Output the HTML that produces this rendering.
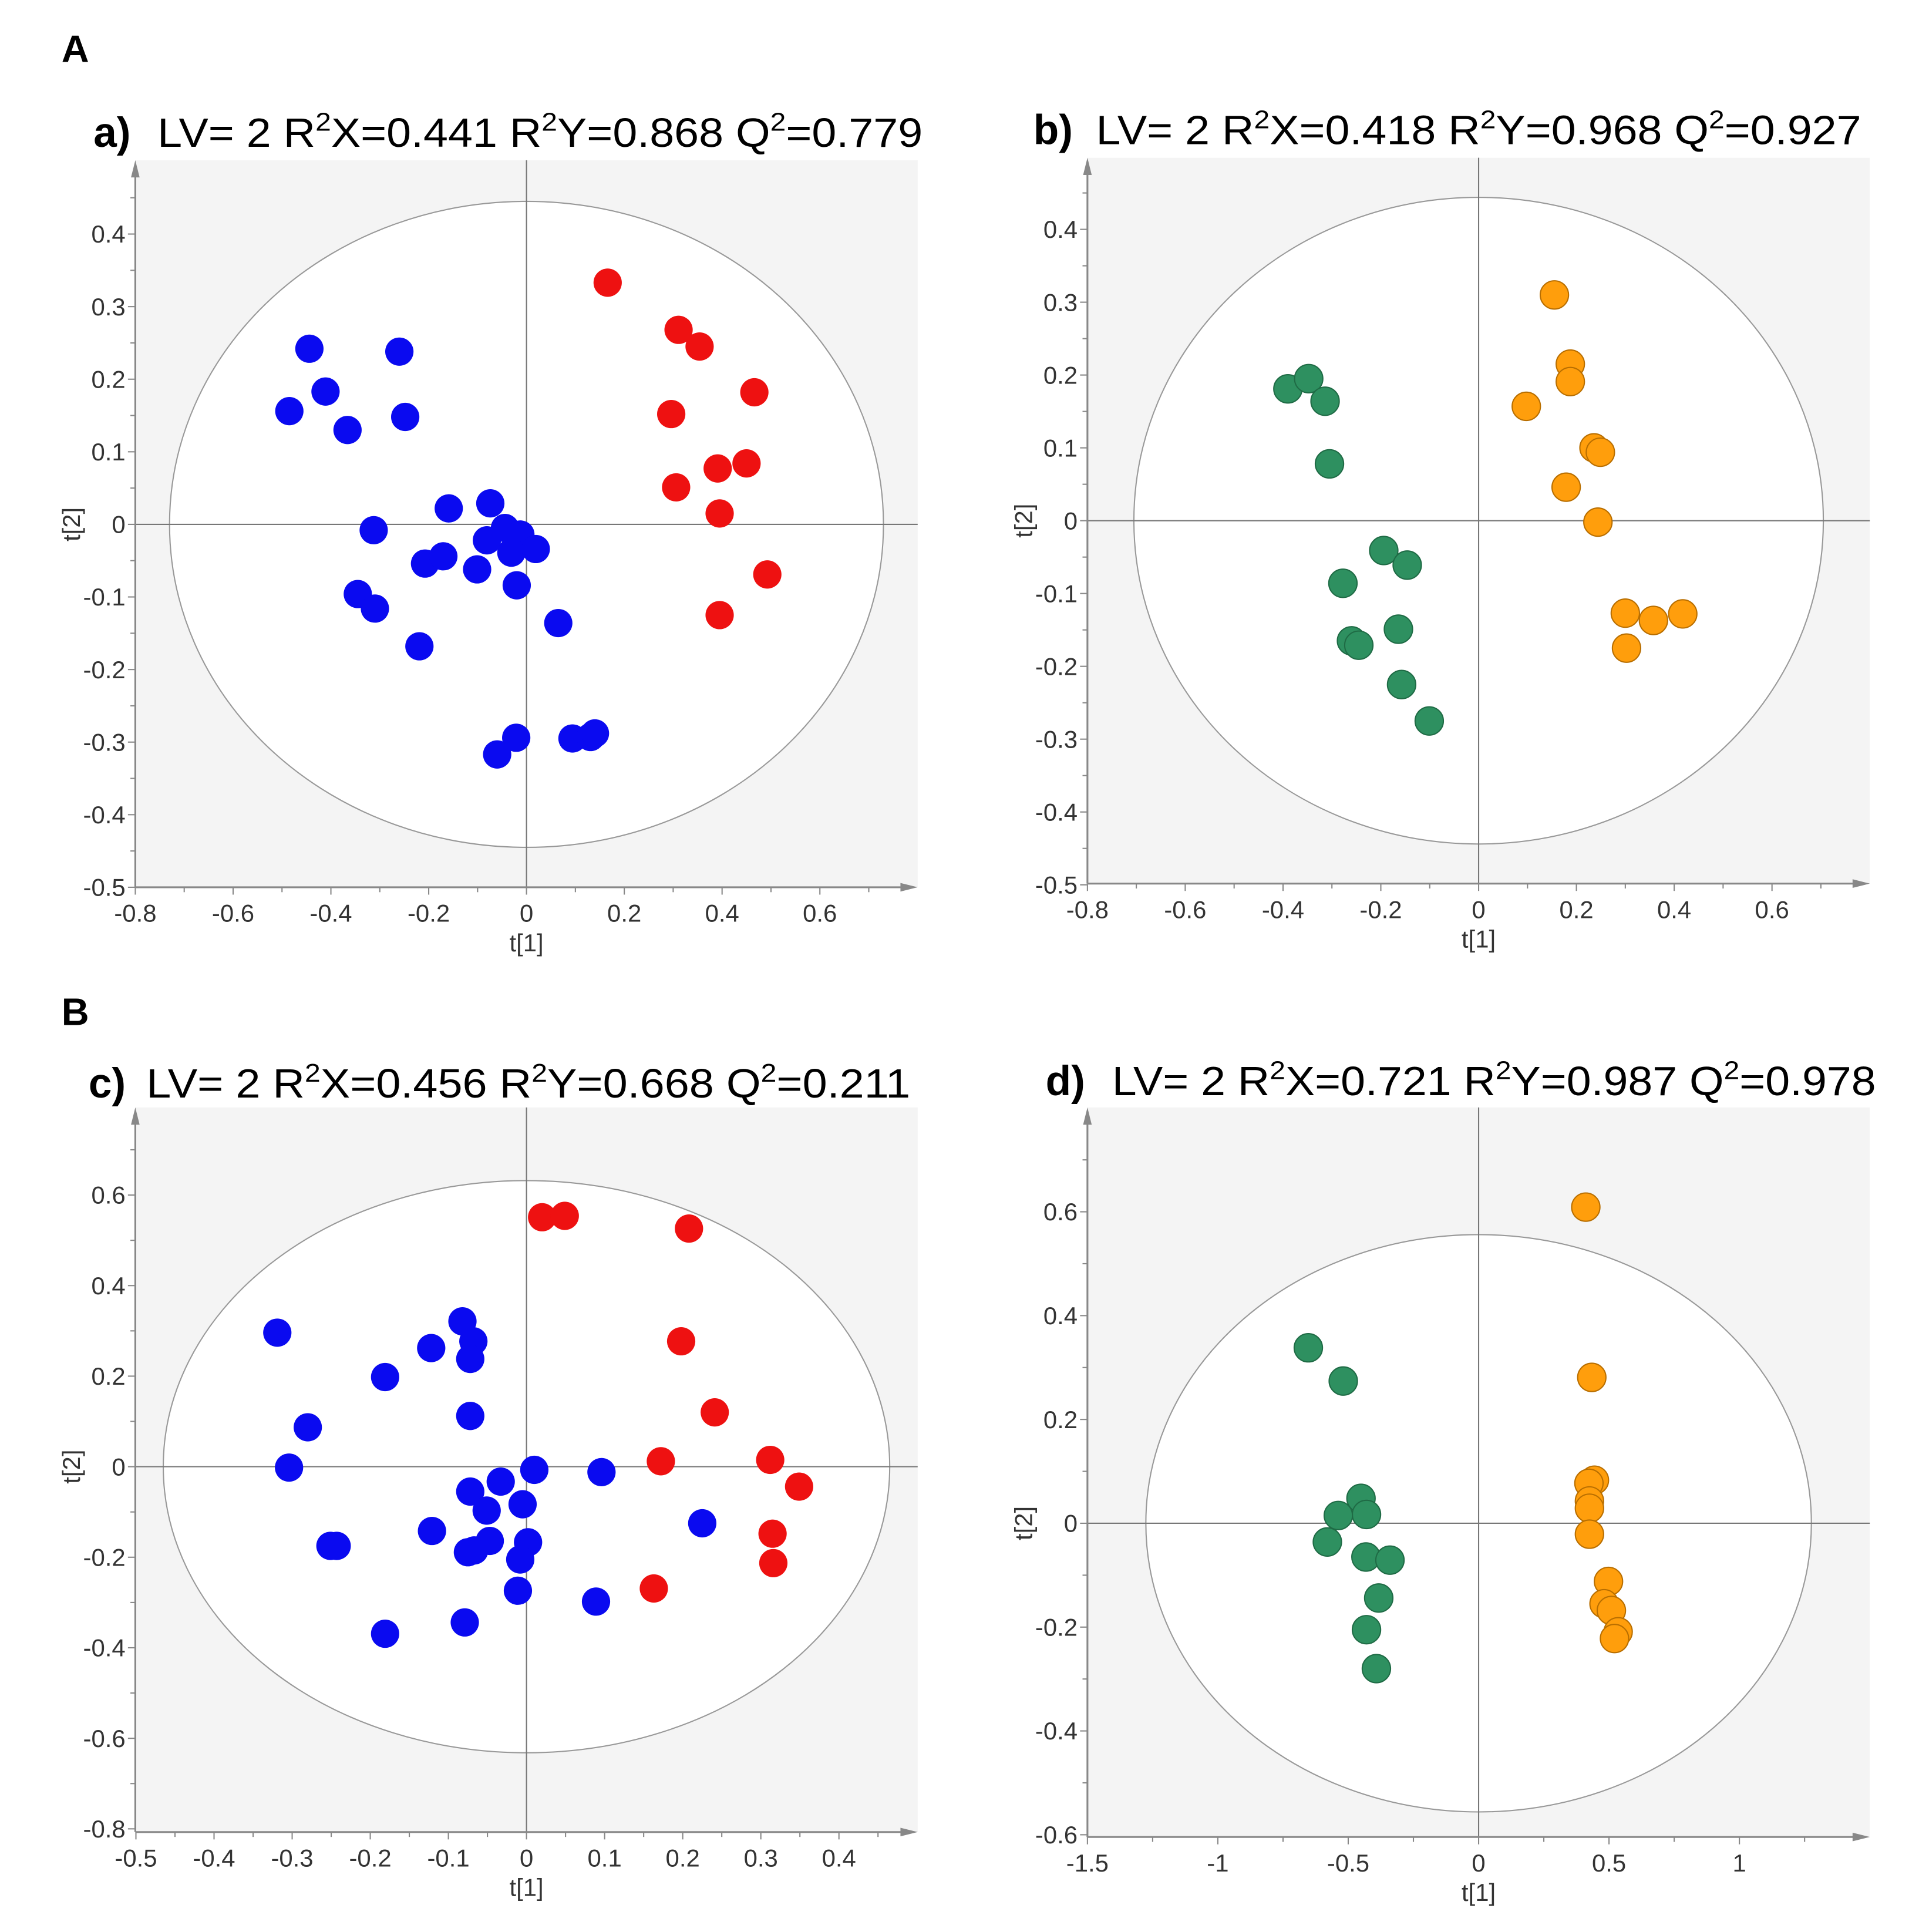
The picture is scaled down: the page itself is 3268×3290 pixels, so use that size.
<!DOCTYPE html>
<html><head><meta charset="utf-8"><style>
html,body{margin:0;padding:0;background:#fff;}
svg{display:block;}
text{font-family:"Liberation Sans",Arial,sans-serif;}
</style></head>
<body>
<svg id="fig" width="3268" height="3290" viewBox="0 0 1560 1570" xmlns="http://www.w3.org/2000/svg">
<rect width="1560" height="1570" fill="#fff"/>
<text x="50" y="50" font-size="31" font-weight="bold">A</text>
<text x="50" y="833" font-size="31" font-weight="bold">B</text>
</svg>
<script>
// ---- Panel a data ----
const aBlueX=[-0.444,-0.26,-0.411,-0.485,-0.366,-0.248,-0.159,-0.074,-0.3125,-0.044,-0.0125,-0.081,-0.031,0.019,-0.2075,-0.17,-0.101,-0.02,-0.345,-0.31,0.065,-0.219,-0.021,-0.06,0.094,0.131,0.14];
const aBlueY=[0.242,0.238,0.183,0.156,0.13,0.148,0.022,0.029,-0.008,-0.005,-0.014,-0.022,-0.039,-0.034,-0.054,-0.044,-0.062,-0.084,-0.096,-0.116,-0.136,-0.168,-0.294,-0.317,-0.295,-0.293,-0.288];
const aRedX=[0.166,0.311,0.354,0.466,0.296,0.45,0.391,0.306,0.395,0.4925,0.395];
const aRedY=[0.333,0.268,0.245,0.182,0.152,0.084,0.077,0.051,0.015,-0.069,-0.125];
// ---- Panel b data ----
const bGreenX=[-0.39,-0.3475,-0.314,-0.305,-0.194,-0.146,-0.2775,-0.26,-0.245,-0.164,-0.1575,-0.101];
const bGreenY=[0.181,0.195,0.164,0.078,-0.041,-0.061,-0.086,-0.165,-0.171,-0.149,-0.225,-0.275];
const bOrangeX=[0.155,0.1875,0.1875,0.0975,0.236,0.249,0.179,0.244,0.3,0.3575,0.4175,0.3025];
const bOrangeY=[0.31,0.215,0.191,0.157,0.1,0.094,0.046,-0.002,-0.127,-0.137,-0.128,-0.175];
// ---- Panel c data ----
const cBlueX=[-0.319,-0.28,-0.304,-0.181,-0.122,-0.082,-0.068,-0.072,-0.072,-0.251,-0.243,-0.181,-0.121,-0.072,-0.033,-0.051,0.01,-0.005,-0.047,-0.075,-0.067,0.002,-0.008,-0.011,-0.079,0.096,0.225,0.089];
const cBlueY=[0.296,0.087,-0.002,0.198,0.262,0.321,0.277,0.238,0.112,-0.175,-0.175,-0.369,-0.142,-0.055,-0.033,-0.097,-0.007,-0.083,-0.164,-0.189,-0.185,-0.167,-0.205,-0.274,-0.344,-0.012,-0.125,-0.298];
const cRedX=[0.02,0.049,0.208,0.198,0.241,0.172,0.312,0.349,0.315,0.316,0.163];
const cRedY=[0.551,0.554,0.526,0.277,0.12,0.012,0.015,-0.044,-0.148,-0.213,-0.269];
// ---- Panel d data ----
const dGreenX=[-0.653,-0.519,-0.451,-0.43,-0.538,-0.58,-0.432,-0.34,-0.383,-0.43,-0.392];
const dGreenY=[0.338,0.274,0.048,0.017,0.015,-0.036,-0.065,-0.071,-0.144,-0.205,-0.28];
const dOrangeX=[0.411,0.434,0.444,0.423,0.425,0.425,0.425,0.498,0.481,0.509,0.535,0.521];
const dOrangeY=[0.609,0.281,0.083,0.077,0.043,0.029,-0.021,-0.112,-0.155,-0.168,-0.209,-0.222];
// ---- tick labels ----
const aXTicks=[-0.8,-0.6,-0.4,-0.2,0,0.2,0.4,0.6];
const aYTicks=[-0.5,-0.4,-0.3,-0.2,-0.1,0,0.1,0.2,0.3,0.4];
const cXTicks=[-0.5,-0.4,-0.3,-0.2,-0.1,0,0.1,0.2,0.3,0.4];
const cYTicks=[-0.8,-0.6,-0.4,-0.2,0,0.2,0.4,0.6];
const dXTicks=[-1.5,-1,-0.5,0,0.5,1];
const dYTicks=[-0.6,-0.4,-0.2,0,0.2,0.4,0.6];
const ellipseA=[0.73,0.445], ellipseB=[0.705,0.444], ellipseC=[0.465,0.632], ellipseD=[1.276,0.556];
const stats={a:["0.441","0.868","0.779"],b:["0.418","0.968","0.927"],c:["0.456","0.668","0.211"],d:["0.721","0.987","0.978"]};

const NS="http://www.w3.org/2000/svg";
const svg=document.getElementById('fig');
function mk(tag,attrs,parent){const e=document.createElementNS(NS,tag);for(const k in attrs)e.setAttribute(k,attrs[k]);(parent||svg).appendChild(e);return e;}
function fmt(v){return (Math.round(v*10)/10).toString();}

function panel(p){
  const g=mk('g',{});
  
  
  const X=v=>p.x0+v*p.sx, Y=v=>p.y0-v*p.sy;
  const bg=mk('rect',{x:p.left,y:p.top,width:p.right-p.left,height:p.bottom-p.top,fill:'#f4f4f4'},g);
  
  
  const el=mk('ellipse',{cx:X(0),cy:Y(0),rx:p.ell[0]*p.sx,ry:p.ell[1]*p.sy,fill:'#fff',stroke:'#999','stroke-width':1},g);
  
  
  const vl=mk('line',{x1:X(0),x2:X(0),y1:p.top,y2:p.bottom,stroke:'#777','stroke-width':1},g);
  
  
  const hl=mk('line',{x1:p.left,x2:p.right,y1:Y(0),y2:Y(0),stroke:'#777','stroke-width':1},g);
  
  
  const ya=mk('line',{x1:p.left,x2:p.left,y1:p.bottom,y2:p.top+4,stroke:'#888','stroke-width':1.5},g);
  
  
  mk('path',{d:`M${p.left-3.5},${p.top+14} L${p.left},${p.top} L${p.left+3.5},${p.top+14} Z`,fill:'#888'},g);
  const xa=mk('line',{x1:p.left,x2:p.right-4,y1:p.bottom,y2:p.bottom,stroke:'#888','stroke-width':1.5},g);
  
  
  mk('path',{d:`M${p.right-14},${p.bottom-3.5} L${p.right},${p.bottom} L${p.right-14},${p.bottom+3.5} Z`,fill:'#888'},g);
  const step=p.xt[1]-p.xt[0];
  p.xt.forEach((v,i)=>{
    mk('line',{x1:X(v),x2:X(v),y1:p.bottom,y2:p.bottom+6,stroke:'#888'},g);
    mk('line',{x1:X(v+step/2),x2:X(v+step/2),y1:p.bottom,y2:p.bottom+4,stroke:'#888'},g);
    const t=mk('text',{x:X(v),y:p.bottom+28,'font-size':20,'text-anchor':'middle',fill:'#333'},g);
    t.textContent=fmt(v);
    
    
  });
  const ys=p.yt[1]-p.yt[0];
  p.yt.forEach(v=>{
    mk('line',{x1:p.left-6,x2:p.left,y1:Y(v),y2:Y(v),stroke:'#888'},g);
    mk('line',{x1:p.left-4,x2:p.left,y1:Y(v+ys/2),y2:Y(v+ys/2),stroke:'#888'},g);
    const t=mk('text',{x:p.left-8,y:Y(v)+7,'font-size':20,'text-anchor':'end',fill:'#333'},g);
    t.textContent=fmt(v);
    
    
  });
  const xl=mk('text',{x:X(0),y:p.bottom+52,'font-size':20,'text-anchor':'middle',fill:'#333'},g);
  xl.textContent='t[1]';
  
  
  const yl=mk('text',{x:0,y:0,'font-size':20,'text-anchor':'middle',fill:'#333',transform:`translate(${p.left-45},${Y(0)}) rotate(-90)`},g);
  yl.textContent='t[2]';
  
  
  p.series.forEach(s=>{
    s.xs.forEach((xv,i)=>{
      const c=mk('circle',{cx:X(xv),cy:Y(s.ys[i]),r:11.5,fill:s.fill,stroke:s.stroke,'stroke-width':s.sw},g);
      
      
    });
  });
  const lt=mk('text',{x:p.tx,y:p.ty,'font-size':34,'font-weight':'bold'},g);
  lt.textContent=p.id+')';
  
  
  const st=stats[p.id];
  // build title with absolute y positions for superscripts
  const tt=mk('text',{x:p.tx2,y:p.ty,'font-size':33,textLength:p.tw,lengthAdjust:'spacingAndGlyphs'},g);
  
  
  const parts=[['LV= 2 R',0],['2',1],['X='+st[0]+' R',0],['2',1],['Y='+st[1]+' Q',0],['2',1],['='+st[2],0]];
  parts.forEach(([s,sup])=>{
    const ts=mk('tspan',sup?{'font-size':21,y:p.ty-13}:{y:p.ty},tt);
    ts.textContent=s;
  });
}

panel({id:'a',left:110,right:746,top:130,bottom:721,x0:428,sx:397.5,y0:426,sy:590,ell:ellipseA,xt:aXTicks,yt:aYTicks,tx:76,tx2:128,ty:119,tw:622,
  series:[{name:'blue',xs:aBlueX,ys:aBlueY,fill:'#0a0af0',stroke:'#0a0af0',sw:0},{name:'red',xs:aRedX,ys:aRedY,fill:'#ee1111',stroke:'#ee1111',sw:0}]});
panel({id:'b',left:884,right:1520,top:128,bottom:718,x0:1202,sx:397.5,y0:423,sy:592,ell:ellipseB,xt:aXTicks,yt:aYTicks,tx:840,tx2:891,ty:117,tw:622,
  series:[{name:'green',xs:bGreenX,ys:bGreenY,fill:'#2e9060',stroke:'#1f6b45',sw:1},{name:'orange',xs:bOrangeX,ys:bOrangeY,fill:'#ff9e0c',stroke:'#b86e00',sw:1}]});
panel({id:'c',left:110,right:746,top:900,bottom:1489,x0:428,sx:635,y0:1192,sy:368,ell:ellipseC,xt:cXTicks,yt:cYTicks,tx:72,tx2:119,ty:892,tw:621,
  series:[{name:'blue',xs:cBlueX,ys:cBlueY,fill:'#0a0af0',stroke:'#0a0af0',sw:0},{name:'red',xs:cRedX,ys:cRedY,fill:'#ee1111',stroke:'#ee1111',sw:0}]});
panel({id:'d',left:884,right:1520,top:900,bottom:1493,x0:1202,sx:212,y0:1238,sy:422,ell:ellipseD,xt:dXTicks,yt:dYTicks,tx:850,tx2:904,ty:890,tw:621,
  series:[{name:'green',xs:dGreenX,ys:dGreenY,fill:'#2e9060',stroke:'#1f6b45',sw:1},{name:'orange',xs:dOrangeX,ys:dOrangeY,fill:'#ff9e0c',stroke:'#b86e00',sw:1}]});
</script>
</body></html>
